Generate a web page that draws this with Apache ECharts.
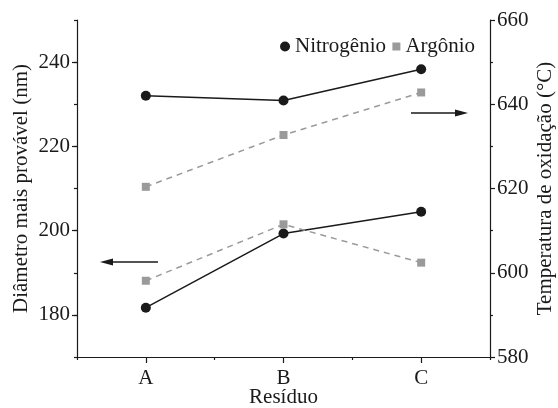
<!DOCTYPE html>
<html>
<head>
<meta charset="utf-8">
<script src="https://cdn.jsdelivr.net/npm/echarts@6/dist/echarts.min.js"></script>
<style>html,body{margin:0;padding:0;background:#fff}#c{width:558px;height:408px}</style>
</head>
<body>
<div id="c"></div>
<script>
const categories = ['A', 'B', 'C'];
const nitroDiam = [181.7, 199.3, 204.5];
const argonDiam = [188.1, 201.5, 192.4];
const nitroTemp = [642.0, 640.9, 648.3];
const argonTemp = [620.4, 632.7, 642.8];
const leftTicks = [180, 200, 220, 240];
const rightTicks = [580, 600, 620, 640, 660];

const FONT = 'Liberation Serif';
const TXT = '#1a1a1a';
const GREY = '#9a9a9a';
const chart = echarts.init(document.getElementById('c'));
const axisLine = {show: true, lineStyle: {color: TXT, width: 1.2}};
chart.setOption({
  animation: false,
  textStyle: {fontFamily: FONT, color: TXT},
  grid: {left: 77, right: 68, top: 20, bottom: 51, containLabel: false, outerBoundsMode: 'none'},
  legend: [
    {data: [{name: 'Nitrogênio', icon: 'circle'}], right: 172, top: 36, itemWidth: 10, itemHeight: 10, itemGap: 4,
     textStyle: {fontFamily: FONT, fontSize: 21, color: TXT}, padding: 0},
    {data: [{name: 'Argônio', icon: 'rect'}], right: 83, top: 36, itemWidth: 8, itemHeight: 8, itemGap: 4,
     textStyle: {fontFamily: FONT, fontSize: 21, color: TXT}, padding: 0}
  ],
  xAxis: [
    {type: 'category', data: categories, boundaryGap: true, axisLine: axisLine,
     axisTick: {show: true, alignWithLabel: true, length: 6, lineStyle: {color: TXT, width: 1.2}},
     axisLabel: {fontFamily: FONT, fontSize: 21, color: TXT, margin: 11},
     name: 'Resíduo', nameLocation: 'middle', nameGap: 30, nameMoveOverlap: false,
     nameTextStyle: {fontFamily: FONT, fontSize: 21, color: TXT}},
    {type: 'category', data: categories, boundaryGap: true, position: 'bottom', axisLine: {show: false},
     axisTick: {show: true, length: 3, lineStyle: {color: TXT, width: 1.2}},
     axisLabel: {show: false}}
  ],
  yAxis: [
    {type: 'value', min: 170, max: 250, interval: 10,
     axisLine: axisLine, splitLine: {show: false},
     axisTick: {show: true, length: 5, customValues: leftTicks, lineStyle: {color: TXT, width: 1.2}},
     axisLabel: {fontFamily: FONT, fontSize: 21, color: TXT, margin: 7, customValues: leftTicks},
     name: 'Diâmetro mais provável (nm)', nameLocation: 'middle', nameRotate: 90, nameGap: 45, nameMoveOverlap: false,
     nameTextStyle: {fontFamily: FONT, fontSize: 21, color: TXT}},
    {type: 'value', min: rightTicks[0], max: rightTicks[rightTicks.length - 1], interval: rightTicks[1] - rightTicks[0],
     position: 'right', axisLine: axisLine, splitLine: {show: false},
     axisTick: {show: true, length: 5, lineStyle: {color: TXT, width: 1.2}},
     minorTick: {show: true, splitNumber: 2, length: 3, lineStyle: {color: TXT, width: 1.2}},
     axisLabel: {fontFamily: FONT, fontSize: 21, color: TXT, margin: 7},
     name: 'Temperatura de oxidação (°C)', nameLocation: 'middle', nameRotate: 90, nameGap: 45, nameMoveOverlap: false,
     nameTextStyle: {fontFamily: FONT, fontSize: 21, color: TXT}},
    {type: 'value', min: 170, max: 250, interval: 10, position: 'left',
     axisLine: {show: false}, splitLine: {show: false},
     axisTick: {show: true, length: 3, lineStyle: {color: TXT, width: 1.2}},
     axisLabel: {show: false}}
  ],
  series: [
    {name: 'Nitrogênio', type: 'line', yAxisIndex: 0, data: nitroDiam, symbol: 'circle', symbolSize: 10,
     lineStyle: {color: TXT, width: 1.5}, itemStyle: {color: TXT}},
    {name: 'Argônio', type: 'line', yAxisIndex: 0, data: argonDiam, symbol: 'rect', symbolSize: 8,
     lineStyle: {color: GREY, width: 1.5, type: [6, 5]}, itemStyle: {color: GREY}},
    {name: 'Nitrogênio', type: 'line', yAxisIndex: 1, data: nitroTemp, symbol: 'circle', symbolSize: 10,
     lineStyle: {color: TXT, width: 1.5}, itemStyle: {color: TXT}},
    {name: 'Argônio', type: 'line', yAxisIndex: 1, data: argonTemp, symbol: 'rect', symbolSize: 8,
     lineStyle: {color: GREY, width: 1.5, type: [6, 5]}, itemStyle: {color: GREY}}
  ],
  graphic: [
    {type: 'line', shape: {x1: 110, y1: 262, x2: 158, y2: 262}, style: {stroke: TXT, lineWidth: 1.5}},
    {type: 'polygon', shape: {points: [[100, 262], [113, 258.5], [113, 265.5]]}, style: {fill: TXT}},
    {type: 'line', shape: {x1: 411, y1: 113, x2: 458, y2: 113}, style: {stroke: TXT, lineWidth: 1.5}},
    {type: 'polygon', shape: {points: [[468, 113], [455, 109.5], [455, 116.5]]}, style: {fill: TXT}}
  ]
});
</script>
</body>
</html>
